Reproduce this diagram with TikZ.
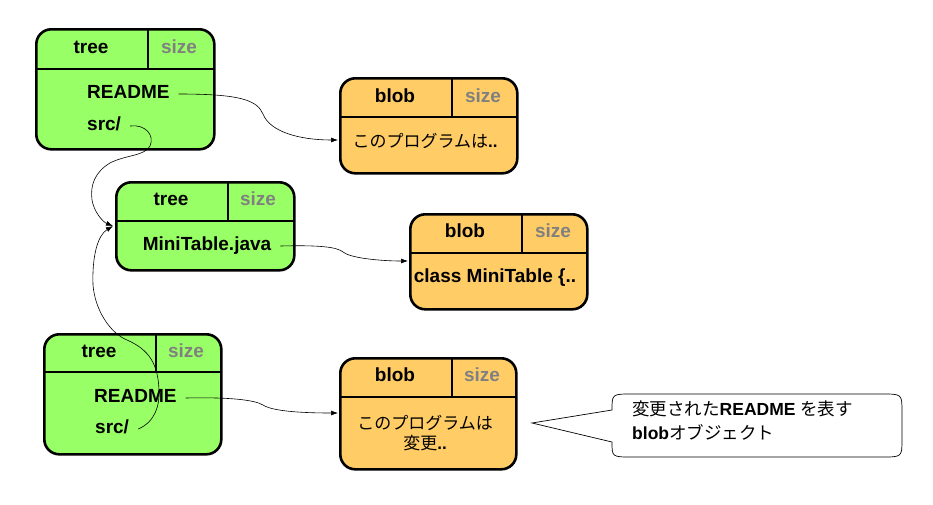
\documentclass[tikz,border=0pt]{standalone}
\usepackage{fontspec}
\setmainfont{Liberation Sans}
\newfontfamily\jp{Noto Sans CJK JP}
\usetikzlibrary{arrows.meta}
\definecolor{treegreen}{HTML}{99FF66}
\definecolor{bloborange}{HTML}{FFCC66}
\definecolor{sizegray}{HTML}{808080}
\begin{document}
\begin{tikzpicture}[x=1pt,y=-1pt,
  box/.style={draw=black, line width=2.6pt, rounded corners=15pt, inner sep=0pt, anchor=north west},
  treebox/.style={box, fill=treegreen},
  blobbox/.style={box, fill=bloborange},
  div/.style={line width=2.6pt, black},
  lbl/.style={inner sep=0pt, font=\fontsize{19}{21}\selectfont\bfseries, text height=13.5pt, text depth=4pt},
  szlbl/.style={lbl, text=sizegray},
  jplbl/.style={inner sep=0pt, font=\fontsize{17}{20}\selectfont\jp},
  conn/.style={line width=0.6pt, black, -{Latex[length=7pt,width=5pt]}},
  callout/.style={draw=black, line width=0.7pt, fill=white}
]
\useasboundingbox (0,0) rectangle (933,504);

% ---- tree 1
\node[treebox, minimum width=178pt, minimum height=120pt] (t1) at (35,28) {};
\draw[div] (35,69) -- (213,69);
\draw[div] (148,28) -- (148,69);
\node[lbl] (t1n) at (91,49) {tree};
\node[szlbl] (t1s) at (179,49) {size};
\node[lbl, anchor=west] (t1r) at (87,94) {README};
\node[lbl, anchor=west] (t1c) at (87,126) {src/};

% ---- blob 1
\node[blobbox, minimum width=177pt, minimum height=95pt] (b1) at (339,77) {};
\draw[div] (339,117) -- (516,117);
\draw[div] (452,77) -- (452,117);
\node[lbl] (b1n) at (395,98) {blob};
\node[szlbl] (b1s) at (483,98) {size};
\node[jplbl] (b1t) at (425,141) {このプログラムは\textbf{\rmfamily..}};

% ---- tree 2
\node[treebox, minimum width=178pt, minimum height=88pt] (t2) at (115,181) {};
\draw[div] (115,221) -- (293,221);
\draw[div] (228,181) -- (228,221);
\node[lbl] (t2n) at (171,201) {tree};
\node[szlbl] (t2s) at (258,201) {size};
\node[lbl] (t2r) at (207,246) {MiniTable.java};

% ---- blob 2
\node[blobbox, minimum width=177pt, minimum height=95pt] (b2) at (409,213) {};
\draw[div] (409,253) -- (586,253);
\draw[div] (522,213) -- (522,253);
\node[lbl] (b2n) at (465,233) {blob};
\node[szlbl] (b2s) at (553,233) {size};
\node[lbl] (b2t) at (495,278) {class MiniTable \{..};

% ---- tree 3
\node[treebox, minimum width=177pt, minimum height=120pt] (t3) at (43,333) {};
\draw[div] (43,372) -- (220,372);
\draw[div] (156,333) -- (156,372);
\node[lbl] (t3n) at (99,353) {tree};
\node[szlbl] (t3s) at (186,353) {size};
\node[lbl, anchor=west] (t3r) at (94,398) {README};
\node[lbl, anchor=west] (t3c) at (95,429) {src/};

% ---- blob 3
\node[blobbox, minimum width=176pt, minimum height=111pt] (b3) at (339,357) {};
\draw[div] (339,397) -- (515,397);
\draw[div] (452,357) -- (452,397);
\node[lbl] (b3n) at (395,377) {blob};
\node[szlbl] (b3s) at (482,377) {size};
\node[jplbl, align=center, font=\fontsize{17}{20}\selectfont\jp] (b3t) at (425,433) {このプログラムは\\変更\textbf{\rmfamily..}};

% ---- connectors
\coordinate (b1in) at (338,140);
\coordinate (t2in) at (113,226);
\coordinate (b2in) at (408,261);
\coordinate (b3in) at (338,413);

\draw[conn] ([xshift=9pt]t1r.east) .. controls (240,94) and (257,100) .. (263,114)
   .. controls (270,132) and (300,140) .. (b1in);
\draw[conn] ([xshift=9pt]t1c.east) .. controls (145,124) and (155,135) .. (150,146)
   .. controls (145,156) and (125,155) .. (110,163)
   .. controls (95,172) and (90,185) .. (92,200)
   .. controls (94,212) and (103,222) .. (t2in);
\draw[conn] ([xshift=9pt]t3c.east) .. controls (155,422) and (160,405) .. (159,390)
   .. controls (158,365) and (150,350) .. (127,340)
   .. controls (110,333) and (95,310) .. (93,285)
   .. controls (92,255) and (98,235) .. (t2in);
\draw[conn] ([xshift=9pt]t2r.east) .. controls (320,245) and (337,247) .. (343,252)
   .. controls (350,258) and (380,261) .. (b2in);
\draw[conn] ([xshift=9pt]t3r.east) .. controls (230,397) and (255,400) .. (263,405)
   .. controls (272,411) and (300,413) .. (b3in);

% ---- callout
\draw[callout] (612,410) -- (532,423) -- (612,442) -- (612,442)
   .. controls (612,457) .. (632,457) -- (882,457)
   .. controls (902,457) .. (902,439) -- (902,412)
   .. controls (902,394) .. (882,394) -- (632,394)
   .. controls (612,394) .. (612,410) -- cycle;
\node[inner sep=0pt, anchor=north west, align=left,
      font=\fontsize{17.5}{24}\selectfont] (note) at (632,401)
  {{\jp 変更された}\textbf{README} {\jp を表す}\\\textbf{blob}{\jp オブジェクト}};
\end{tikzpicture}
\end{document}
